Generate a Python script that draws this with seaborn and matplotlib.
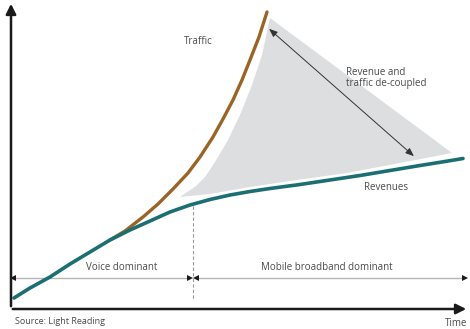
import matplotlib
matplotlib.use("Agg")
import matplotlib.pyplot as plt
import seaborn as sns
import pandas as pd
from matplotlib.patches import Polygon, FancyArrowPatch

sns.set_theme(style="white")
plt.rcParams["font.family"] = ["Open Sans", "DejaVu Sans"]

# Curves, traced in canvas units (x to the right, y downward)
revenue_x = [14, 30, 50, 70, 90, 110, 130, 150, 170, 190, 210, 230, 250, 270, 300,
             330, 360, 390, 420, 445, 463]
revenue_y = [298, 288, 277, 264, 252, 240, 230, 221, 212, 205, 199.5, 195, 191.5, 188.5,
             184.5, 180, 175.5, 170.5, 165.5, 161.5, 158.5]
traffic_x = [110, 125, 143, 158, 173, 188, 200, 213, 223, 233, 242, 250, 259, 267]
traffic_y = [240, 231, 217, 204, 189, 173, 157, 137, 119, 100, 80, 60, 37, 12]

# Shaded gap between the two curves
gap_x = [180, 196, 205, 215, 228, 240, 252, 262, 270, 452, 400, 347, 290, 250, 210]
gap_y = [197, 186, 177, 162, 140, 115, 85, 55, 18, 153, 163, 173, 181, 187, 194]

labels = {
    "traffic": "Traffic",
    "gap": "Revenue and\ntraffic de-coupled",
    "revenue": "Revenues",
    "voice": "Voice dominant",
    "mobile": "Mobile broadband dominant",
    "source": "Source: Light Reading",
    "time": "Time",
}

TEAL = "#1b6f73"
BROWN = "#9a6426"
GREY_FILL = "#dddee0"
TXT = "#4a4a4a"

fig = plt.figure(figsize=(4.7, 3.29), dpi=100)
ax = fig.add_axes([0, 0, 1, 1])

ax.add_patch(Polygon(list(zip(gap_x, gap_y)), closed=True, facecolor=GREY_FILL,
                     edgecolor="none", zorder=1))

rev = pd.DataFrame({"x": revenue_x, "y": revenue_y})
trf = pd.DataFrame({"x": traffic_x, "y": traffic_y})
sns.lineplot(data=trf, x="x", y="y", sort=False, color=BROWN, lw=2.4, ax=ax, zorder=3)
sns.lineplot(data=rev, x="x", y="y", sort=False, color=TEAL, lw=2.6, ax=ax, zorder=4)
ax.set_xlim(0, 470)
ax.set_ylim(329, 0)
ax.axis("off")

# Main axes with arrow heads
ax.add_patch(FancyArrowPatch((11, 309), (11, 1), arrowstyle="-|>,head_length=6,head_width=3",
                             color="#1a1a1a", lw=1.8, mutation_scale=1, zorder=5))
ax.add_patch(FancyArrowPatch((10, 309), (469, 309), arrowstyle="-|>,head_length=6,head_width=3",
                             color="#1a1a1a", lw=1.8, mutation_scale=1, zorder=5))

# De-coupling double arrow
ax.add_patch(FancyArrowPatch((267, 27), (416, 158), arrowstyle="<|-|>,head_length=5,head_width=2",
                             color="#333333", lw=0.7, mutation_scale=1, zorder=6))

# Era markers: dashed divider and span arrows with dark heads
ax.plot([193, 193], [206, 299], color="#999999", lw=0.8, ls=(0, (3, 2)), zorder=2)
for x0, x1 in [(13, 190), (196, 465)]:
    ax.plot([x0, x1], [278, 278], color="#b5b5b5", lw=1.0, zorder=2)
    ax.plot([x0], [278], marker="<", ms=4, color="#1a1a1a", mew=0, zorder=3)
    ax.plot([x1], [278], marker=">", ms=4, color="#1a1a1a", mew=0, zorder=3)

fs = 7
ax.text(198, 41, labels["traffic"], fontsize=fs, color=TXT, ha="center", va="center")
ax.text(346, 78, labels["gap"], fontsize=fs, color=TXT, ha="left", va="center", linespacing=1.1)
ax.text(386, 187, labels["revenue"], fontsize=fs, color=TXT, ha="center", va="center")
ax.text(122, 267, labels["voice"], fontsize=fs, color=TXT, ha="center", va="center")
ax.text(327, 267, labels["mobile"], fontsize=fs, color=TXT, ha="center", va="center")
ax.text(15, 322, labels["source"], fontsize=6.5, color=TXT, ha="left", va="center")
ax.text(456, 324, labels["time"], fontsize=7, color=TXT, ha="center", va="center")

fig.savefig("out.png", dpi=100)
